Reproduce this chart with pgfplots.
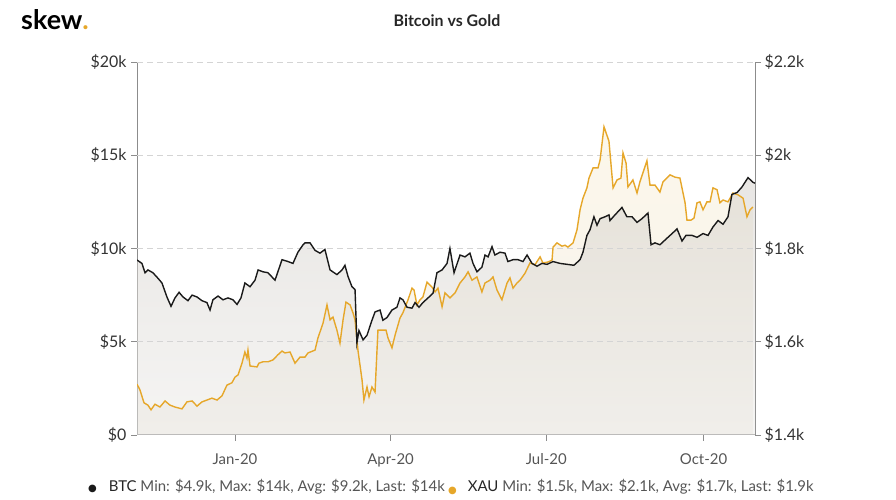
\documentclass[border=0pt]{standalone}
\usepackage{fontspec}
\setmainfont{Lato}
\newfontfamily\symfont{DejaVu Sans}
\usepackage{pgfplots}
\usepackage{pgfplotstable}
\pgfplotsset{compat=1.18}
\definecolor{goldc}{HTML}{E6A72A}
\definecolor{btcc}{HTML}{1A1A1A}
\definecolor{axisc}{HTML}{8C8C8C}
\definecolor{labc}{HTML}{333333}
\definecolor{legc}{HTML}{555555}
\definecolor{goldtop}{HTML}{FCF7EA}
\definecolor{goldbot}{HTML}{F6F3EE}
\definecolor{btctop}{HTML}{D2CEC9}
\definecolor{btcbot}{HTML}{ECEBE8}

% BTC price in thousands of USD, x = days since 1 Jan 2020
\pgfplotstableread{
d v
-57.3 9.38
-54.4 9.2
-52.6 8.7
-50.9 8.85
-48.0 8.7
-45.0 8.4
-42.7 8.15
-39.8 7.4
-37.4 6.9
-35.1 7.35
-32.7 7.65
-30.4 7.4
-27.5 7.2
-25.1 7.5
-22.2 7.4
-19.3 7.2
-16.4 7.1
-14.6 6.7
-12.9 7.25
-9.9 7.45
-7.0 7.25
-4.1 7.35
-1.2 7.25
1.2 7.0
3.5 7.35
5.8 8.15
8.8 7.95
11.7 8.3
13.5 8.85
16.4 8.75
19.3 8.7
23.4 8.3
27.5 9.4
31.0 9.3
33.9 9.2
36.8 9.8
39.8 10.2
40.9 10.3
43.9 10.3
46.8 9.9
49.7 9.75
52.6 9.95
55.6 8.85
59.6 8.6
62.6 8.85
64.3 9.1
66.1 8.5
68.4 7.95
70.2 7.8
71.3 4.95
72.5 5.6
74.9 5.1
77.2 5.35
80.1 6.15
81.9 6.6
84.8 6.7
86.5 6.15
88.9 6.3
91.8 6.7
94.7 6.85
96.5 7.35
98.2 7.25
100.6 6.85
103.5 6.8
105.3 7.1
107.6 6.85
109.9 7.1
112.9 7.35
115.8 7.6
118.1 8.7
121.1 8.85
124.0 9.2
125.7 10.0
128.1 8.7
131.6 9.65
134.5 9.55
137.4 9.75
139.2 9.2
141.5 8.75
144.4 9.0
146.2 9.65
148.0 9.55
150.3 10.1
152.0 9.65
155.0 9.8
157.9 9.75
159.6 9.3
162.6 9.4
165.5 9.4
168.4 9.3
170.8 9.65
173.7 9.2
176.6 9.05
179.5 9.2
182.5 9.15
186.0 9.3
190.1 9.2
194.2 9.15
198.2 9.1
201.8 9.4
203.5 9.8
205.8 10.7
207.6 11.0
209.9 11.7
211.7 11.25
213.5 11.6
216.4 11.7
218.7 11.8
219.3 11.5
222.2 11.8
226.3 12.2
229.2 11.7
232.2 11.7
235.1 11.4
238.0 11.6
241.5 11.9
243.3 10.2
245.6 10.3
248.5 10.2
252.6 10.55
255.6 10.8
258.5 11.05
261.4 10.4
263.7 10.7
267.3 10.7
270.2 10.6
273.7 10.8
276.6 10.7
279.5 11.15
282.5 11.5
285.4 11.3
288.3 11.7
290.6 12.9
293.6 13.0
296.5 13.3
300.0 13.8
302.9 13.55
304.1 13.5
}\btc

% XAU price in thousands of USD
\pgfplotstableread{
d v
-57.3 1.509
-55.6 1.497
-53.2 1.469
-50.9 1.464
-49.1 1.454
-46.8 1.466
-43.9 1.460
-40.9 1.473
-38.0 1.464
-35.1 1.460
-31.0 1.456
-28.1 1.471
-25.1 1.473
-22.2 1.462
-19.3 1.471
-16.4 1.475
-13.5 1.479
-10.5 1.475
-7.6 1.484
-4.7 1.507
-1.8 1.512
0 1.524
1.8 1.529
4.1 1.554
5.8 1.578
7.0 1.565
7.6 1.582
8.8 1.548
12.9 1.546
14.0 1.554
16.4 1.557
19.3 1.557
22.2 1.561
25.1 1.572
27.5 1.580
29.2 1.576
32.2 1.578
35.1 1.554
38.0 1.567
40.9 1.567
42.7 1.576
46.8 1.582
48.5 1.608
51.5 1.640
53.8 1.679
55.6 1.647
57.3 1.653
59.6 1.625
61.4 1.597
63.2 1.647
64.9 1.685
67.3 1.679
69.0 1.662
70.2 1.647
71.9 1.582
74.3 1.518
75.4 1.475
77.2 1.503
78.4 1.482
80.1 1.503
81.9 1.492
83.6 1.625
86.0 1.625
88.3 1.625
89.5 1.608
91.8 1.587
93.6 1.614
96.5 1.651
98.2 1.662
101.2 1.690
103.5 1.715
104.7 1.711
106.4 1.679
108.2 1.690
109.9 1.696
112.3 1.728
115.2 1.717
117.0 1.707
118.7 1.715
121.1 1.675
122.8 1.705
125.7 1.694
128.7 1.705
131.6 1.726
134.5 1.739
136.3 1.750
138.6 1.732
141.5 1.739
144.4 1.707
146.2 1.726
149.1 1.732
150.9 1.739
153.2 1.711
156.1 1.690
159.1 1.726
160.8 1.737
162.6 1.715
164.9 1.726
166.7 1.732
169.6 1.747
172.5 1.769
175.4 1.765
178.4 1.782
180.1 1.769
183.0 1.771
185.4 1.775
186.0 1.803
188.3 1.812
191.2 1.805
193.0 1.807
194.7 1.803
197.7 1.812
200.0 1.840
201.8 1.883
203.5 1.908
205.8 1.930
207.0 1.951
209.4 1.973
212.3 1.973
213.5 1.990
215.8 2.061
218.7 2.030
221.1 1.930
223.4 1.947
225.7 1.951
226.9 2.005
228.7 1.983
229.8 1.932
232.7 1.947
235.1 1.919
236.8 1.943
240.9 1.988
242.7 1.936
245.6 1.936
248.5 1.921
250.3 1.943
254.4 1.958
257.3 1.953
260.2 1.951
263.2 1.898
264.3 1.861
266.7 1.861
268.4 1.865
270.2 1.898
271.9 1.900
273.7 1.883
276.0 1.900
277.8 1.900
279.5 1.930
281.9 1.926
283.6 1.898
285.4 1.904
288.3 1.900
291.2 1.919
294.2 1.915
297.1 1.908
299.4 1.868
301.2 1.883
302.9 1.889
}\xau

\pgfplotsset{
  frame/.style={
    at={(137bp,65bp)}, anchor=south west,
    width=618bp, height=373bp, scale only axis,
    xmin=-57.3, xmax=304.1,
    axis line style={-, axisc, line width=1bp},
    tick align=outside, major tick length=6bp,
    tick style={axisc, line width=0.8bp},
    clip=true,
  },
  goldscale/.style={ymin=1.4, ymax=2.2},
  btcscale/.style={ymin=0, ymax=20},
}

\begin{document}
\begin{tikzpicture}[x=1bp,y=1bp]
\useasboundingbox (0,0) rectangle (896,500);
% A: gold fill and right axis
\begin{axis}[frame, goldscale,
  axis x line=none, axis y line*=right,
  ytick={1.4,1.6,1.8,2.0,2.2},
  yticklabels={\$1.4k,\$1.6k,\$1.8k,\$2k,\$2.2k},
  yticklabel style={font=\fontsize{16}{18}\selectfont, text=labc, xshift=0bp},
]
\addplot[draw=none, top color=goldtop, bottom color=goldbot] table[x=d,y=v] {\xau} \closedcycle;
\end{axis}
% B: BTC fill, left and bottom axes
\begin{axis}[frame, btcscale,
  axis x line*=bottom, axis y line*=left,
  ytick={0,5,10,15,20},
  yticklabels={\$0,\$5k,\$10k,\$15k,\$20k},
  xtick={0,91,182,274},
  xticklabels={Jan-20,Apr-20,Jul-20,Oct-20},
  yticklabel style={font=\fontsize{16}{18}\selectfont, text=labc, xshift=-1bp},
  xticklabel style={font=\fontsize{15}{17}\selectfont, text=legc, yshift=-9bp},
]
\addplot[draw=none, top color=btctop, bottom color=btcbot, fill opacity=0.5] table[x=d,y=v] {\btc} \closedcycle;
\end{axis}
% C: grid and gold line
\begin{axis}[frame, goldscale,
  axis line style={draw=none},
  ytick={1.6,1.8,2.0,2.2}, yticklabels={}, xtick=\empty,
  major tick length=0pt, tick style={draw=none},
  ymajorgrids, grid style={black!17, line width=0.8bp, dash pattern=on 6bp off 4bp},
]
\addplot[goldc, line width=1.4bp] table[x=d,y=v] {\xau};
\end{axis}
% D: BTC line
\begin{axis}[frame, btcscale, hide axis]
\addplot[btcc, line width=1.4bp] table[x=d,y=v] {\btc};
\end{axis}
% Title and logo
\node[anchor=base, font=\fontsize{16}{18}\selectfont\bfseries, text=black!85] at (447,473) {Bitcoin vs Gold};
\node[anchor=base west, inner sep=0pt, font=\fontsize{27}{30}\selectfont\bfseries] at (21,470) {skew\textcolor{goldc}{.}};
% Legend
\node[anchor=base west, inner sep=0pt, font=\fontsize{15}{17}\selectfont] at (88,8)
  {{\symfont\fontsize{10}{12}\selectfont\textcolor{btcc}{●}}\hspace{12bp}\textcolor{black!85}{BTC} \textcolor{legc}{Min: \$4.9k, Max: \$14k, Avg: \$9.2k, Last: \$14k}};
\node[anchor=base west, inner sep=0pt, font=\fontsize{15}{17}\selectfont] at (448,6)
  {{\symfont\fontsize{10}{12}\selectfont\textcolor{goldc}{●}}\hspace{11bp}\raisebox{2bp}{\textcolor{black!85}{XAU} \textcolor{legc}{Min: \$1.5k, Max: \$2.1k, Avg: \$1.7k, Last: \$1.9k}}};
\end{tikzpicture}
\end{document}
